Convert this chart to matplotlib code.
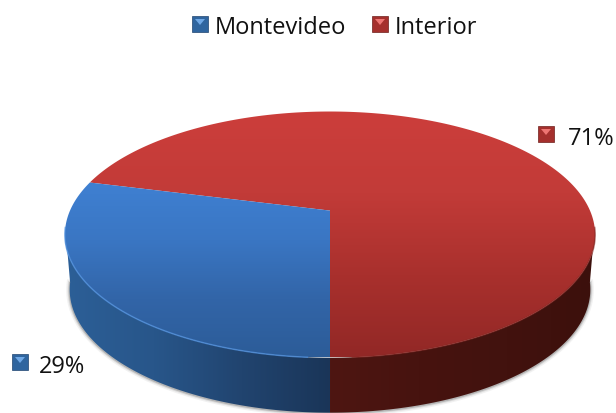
import numpy as np
import matplotlib
matplotlib.use('Agg')
import matplotlib.pyplot as plt
from matplotlib.patches import Polygon, Rectangle
from matplotlib.colors import LinearSegmentedColormap

categorias = ['Montevideo', 'Interior']
valores = [29, 71]
rotulos = ['29%', '71%']

# perspectiva do disco: (u, v) no circulo unitario -> pixels
CX, K = 330, 260.0
A, B, C = -77.15, 211.6, 0.195
PROF = 55
ENCOLHE = 0.982  # base um pouco menor que o topo


def proj(u, v):
    return CX + K * u / (1 + C * v), (A * v + B) / (1 + C * v)


def arco(ini, fim, n=200):
    t = np.radians(np.linspace(ini, fim, n))
    return proj(np.sin(t), np.cos(t))


def base(x, y):
    return CX + (x - CX) * ENCOLHE, y + PROF


def gradiente(ax, patch, cores, vertical=True, ext=(0, 616, 414, 0)):
    cmap = LinearSegmentedColormap.from_list('g', cores)
    g = np.linspace(0, 1, 256).reshape(-1, 1)
    if not vertical:
        g = g.T
    im = ax.imshow(g, cmap=cmap, extent=ext, aspect='auto', zorder=patch.get_zorder(),
                   vmin=0, vmax=1, interpolation='bilinear')
    ax.add_patch(patch)
    patch.set_visible(False)
    im.set_clip_path(patch)


fig = plt.figure(figsize=(6.16, 4.14), dpi=100)
ax = fig.add_axes([0, 0, 1, 1])
ax.set_xlim(0, 616)
ax.set_ylim(414, 0)
ax.axis('off')

# angulos em sentido horario a partir das 12h; Montevideo termina em baixo
ang_m = valores[0] / sum(valores) * 360
ini_m, fim_m = 180, 180 + ang_m

# sombra suave na borda da lateral
xs, ys = arco(98, 262, 300)
bx, by = base(xs, ys)
for lw, a in [(5, 0.08), (3, 0.15), (1.5, 0.28)]:
    ax.plot(bx, by + 0.5, color='#555555', lw=lw, alpha=a, zorder=1)

# lateral: interior a direita, Montevideo a esquerda
for ini, fim, cores, ext in [
    (98, 180, ['#4e1612', '#47130f', '#42120e', '#3c100c'], (330, 596, 414, 0)),
    (180, 262, ['#2c5f97', '#28568a', '#21446f', '#1a3558'], (65, 331, 414, 0)),
]:
    px, py = arco(ini, fim)
    qx, qy = base(px, py)
    pts = np.column_stack([np.r_[px, qx[::-1]], np.r_[py, qy[::-1]]])
    gradiente(ax, Polygon(pts, closed=True, zorder=2), cores, vertical=False, ext=ext)

# topo
xm, ym = arco(ini_m, fim_m)
xi, yi = arco(fim_m, 180 + 360)
cx0, cy0 = proj(0, 0)
pts_i = np.column_stack([np.r_[cx0, xi], np.r_[cy0, yi]])
pts_m = np.column_stack([np.r_[cx0, xm], np.r_[cy0, ym]])
gradiente(ax, Polygon(pts_i, closed=True, zorder=3), ['#cc3e3b', '#c23b38', '#a9302d', '#922826'],
          ext=(0, 616, 358, 112))
gradiente(ax, Polygon(pts_m, closed=True, zorder=4), ['#3f80d2', '#3a76c3', '#3265a8', '#2c5c98'],
          ext=(0, 616, 358, 183))

# brilho na borda da frente
bx, by = arco(184, 262, 120)
ax.plot(bx, by, color='#4f8fdc', lw=1.1, alpha=0.75, zorder=5)
bx, by = arco(98, 176, 120)
ax.plot(bx, by, color='#8a2a26', lw=1.2, alpha=0.6, zorder=5)


def marcador(x, y, cor, clara, esc):
    ax.add_patch(Rectangle((x, y), 16, 16, fc=cor, ec=esc, lw=0.5, zorder=6))
    ax.add_patch(Polygon([(x + 3, y + 3), (x + 13, y + 3), (x + 8, y + 9)],
                         fc=clara, ec='none', zorder=7))


AZUL = ('#2f659f', '#6fa8e6', '#1f4470')
VERM = ('#a5302d', '#ee7673', '#6e1f1c')
FONTE = 'Open Sans'
TAM = 17

marcador(192, 17, *AZUL)
ax.text(215, 28, categorias[0], fontsize=TAM, family=FONTE, color='#111111', va='center', ha='left')
marcador(372, 17, *VERM)
ax.text(395, 28, categorias[1], fontsize=TAM, family=FONTE, color='#111111', va='center', ha='left')

marcador(12, 355, *AZUL)
ax.text(39, 367, rotulos[0], fontsize=TAM, family=FONTE, color='#111111', va='center', ha='left')
marcador(538, 127, *VERM)
ax.text(568, 139, rotulos[1], fontsize=TAM, family=FONTE, color='#111111', va='center', ha='left')

fig.savefig('out.png', dpi=100)
